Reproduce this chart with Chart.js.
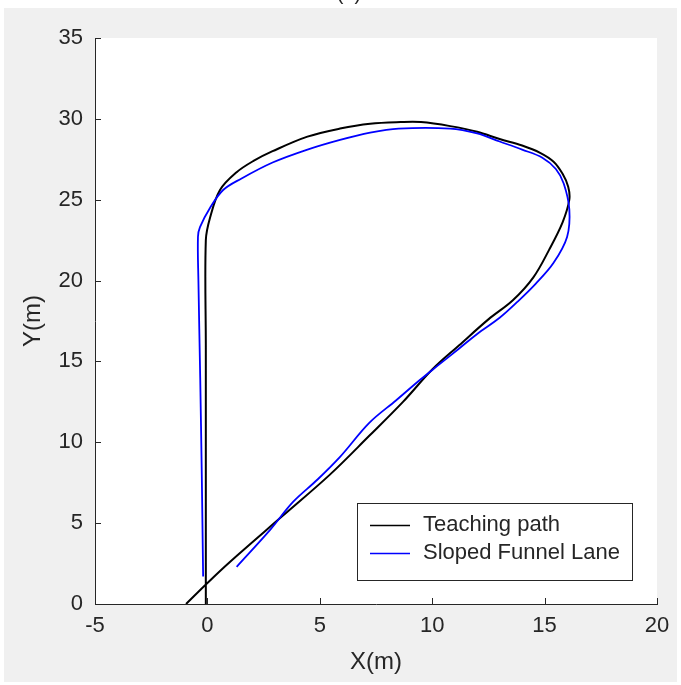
<!DOCTYPE html>
<html>
<head>
<meta charset="utf-8">
<script src="https://cdn.jsdelivr.net/npm/chart.js@4.4.1/dist/chart.umd.min.js"></script>
<style>
  html, body { margin: 0; padding: 0; background: #ffffff; }
  canvas { display: block; }
</style>
</head>
<body>
<canvas id="pathChart" width="681" height="685"></canvas>
<script>
// Teaching path (black)
const teachX = [-0.07, -0.07, -0.07, -0.07, 0.12, 0.56, 1.3, 2.05, 2.9, 4.45, 5.9, 7.24, 8.6, 9.5, 10.8, 12.0, 13.0, 14.0, 14.8, 15.4, 15.8, 16.05, 16.1,
                15.8, 15.2, 14.5, 13.6, 12.5, 11.2, 10.0, 8.7, 7.2, 5.45, 3.35, 1.0, 0.0, -0.95];
const teachY = [0.0, 8.0, 16.0, 22.5, 23.9, 25.6, 26.7, 27.4, 28.0, 28.9, 29.4, 29.7, 29.8, 29.8, 29.55, 29.2, 28.75, 28.35, 27.9, 27.35, 26.6, 25.8, 25.0,
                23.6, 21.9, 20.2, 18.8, 17.6, 16.0, 14.5, 12.5, 10.4, 8.0, 5.45, 2.6, 1.3, 0.0];

// Sloped Funnel Lane (blue)
const laneX = [-0.19, -0.25, -0.32, -0.4, -0.42, -0.33, 0.12, 0.7, 1.5, 2.9, 4.45, 5.9, 7.24, 8.5, 10.8, 12.0, 13.0, 14.0, 14.9, 15.5, 15.85, 16.1,
               16.0, 15.4, 14.6, 13.8, 13.0, 12.0, 11.2, 10.3, 9.45, 8.4, 7.2, 5.9, 4.9, 3.8, 2.8, 1.3];
const laneY = [1.7, 8.0, 14.0, 20.0, 22.7, 23.3, 24.5, 25.6, 26.3, 27.3, 28.1, 28.7, 29.15, 29.4, 29.4, 29.1, 28.6, 28.1, 27.6, 26.9, 26.0, 24.4,
               22.7, 21.1, 19.8, 18.7, 17.7, 16.7, 15.8, 14.8, 13.85, 12.6, 11.2, 9.1, 7.7, 6.3, 4.6, 2.3];

const xTicks = [-5, 0, 5, 10, 15, 20];
const yTicks = [0, 5, 10, 15, 20, 25, 30, 35];
const seriesNames = ['Teaching path', 'Sloped Funnel Lane'];
const seriesColors = ['#000000', '#0000ff'];

const toPoints = (xs, ys) => xs.map((x, i) => ({ x: x, y: ys[i] }));

const axisColor = '#262626';
const fontFamily = "'Liberation Sans', Arial, sans-serif";

// figure background, white axes area, inward ticks, legend, cut-off title
const figurePlugin = {
    id: 'figure',
    beforeDraw(chart) {
        const ctx = chart.ctx;
        const a = chart.chartArea;
        ctx.save();
        ctx.fillStyle = '#ffffff';
        ctx.fillRect(0, 0, chart.width, chart.height);
        ctx.fillStyle = '#f0f0f0';
        ctx.fillRect(4, 8, chart.width - 8, chart.height - 11);
        ctx.fillStyle = '#ffffff';
        ctx.fillRect(a.left, a.top, a.right - a.left, a.bottom - a.top);
        ctx.fillStyle = axisColor;
        ctx.font = '20px ' + fontFamily;
        ctx.textAlign = 'center';
        ctx.textBaseline = 'alphabetic';
        ctx.fillText('(a)', 349, 0);
        ctx.restore();
    },
    afterDraw(chart) {
        const ctx = chart.ctx;
        const a = chart.chartArea;
        const xs = chart.scales.x;
        const ys = chart.scales.y;
        ctx.save();
        ctx.strokeStyle = axisColor;
        ctx.lineWidth = 1;
        ctx.beginPath();
        xTicks.forEach(v => {
            const px = Math.round(xs.getPixelForValue(v)) + 0.5;
            ctx.moveTo(px, a.bottom);
            ctx.lineTo(px, a.bottom - 6);
        });
        yTicks.forEach(v => {
            const py = Math.round(ys.getPixelForValue(v)) + 0.5;
            ctx.moveTo(a.left, py);
            ctx.lineTo(a.left + 6, py);
        });
        ctx.stroke();

        // legend box, lower right inside the axes
        const lx = 357, ly = 503, lw = 275, lh = 77;
        ctx.fillStyle = '#ffffff';
        ctx.fillRect(lx, ly, lw, lh);
        ctx.strokeStyle = axisColor;
        ctx.lineWidth = 1;
        ctx.strokeRect(lx + 0.5, ly + 0.5, lw, lh);
        ctx.font = '22px ' + fontFamily;
        ctx.textAlign = 'left';
        ctx.textBaseline = 'middle';
        seriesNames.forEach((name, i) => {
            const y = ly + 22 + i * 28;
            ctx.strokeStyle = seriesColors[i];
            ctx.lineWidth = 1.3;
            ctx.beginPath();
            ctx.moveTo(lx + 13, y + 0.5);
            ctx.lineTo(lx + 53, y + 0.5);
            ctx.stroke();
            ctx.fillStyle = axisColor;
            ctx.fillText(name, lx + 66, y);
        });
        ctx.restore();
    }
};

new Chart(document.getElementById('pathChart'), {
    type: 'scatter',
    data: {
        datasets: [{
            label: seriesNames[0],
            data: toPoints(teachX, teachY),
            borderColor: seriesColors[0],
            borderWidth: 2,
            showLine: true,
            pointRadius: 0,
            tension: 0.35,
            order: 2
        }, {
            label: seriesNames[1],
            data: toPoints(laneX, laneY),
            borderColor: seriesColors[1],
            borderWidth: 1.8,
            showLine: true,
            pointRadius: 0,
            tension: 0.35,
            order: 1
        }]
    },
    options: {
        responsive: false,
        animation: false,
        layout: {
            padding: { left: 0, right: 24, top: 38, bottom: 0 }
        },
        plugins: {
            legend: { display: false },
            tooltip: { enabled: false }
        },
        scales: {
            x: {
                type: 'linear',
                min: -5,
                max: 20,
                afterBuildTicks: scale => { scale.ticks = xTicks.map(v => ({ value: v })); },
                afterFit: scale => { scale.height = 81; },
                grid: { drawOnChartArea: false, drawTicks: false },
                border: { display: true, color: axisColor, width: 1 },
                ticks: {
                    color: axisColor,
                    padding: 9,
                    maxRotation: 0,
                    font: { family: fontFamily, size: 22 }
                },
                title: {
                    display: true,
                    text: 'X(m)',
                    color: axisColor,
                    padding: { top: 0, bottom: 8 },
                    font: { family: fontFamily, size: 24 }
                }
            },
            y: {
                type: 'linear',
                min: 0,
                max: 35,
                afterBuildTicks: scale => { scale.ticks = yTicks.map(v => ({ value: v })); },
                afterFit: scale => { scale.width = 95; },
                grid: { drawOnChartArea: false, drawTicks: false },
                border: { display: true, color: axisColor, width: 1 },
                ticks: {
                    color: axisColor,
                    padding: 12,
                    font: { family: fontFamily, size: 22 }
                },
                title: {
                    display: true,
                    text: 'Y(m)',
                    color: axisColor,
                    padding: { top: 19, bottom: 0 },
                    font: { family: fontFamily, size: 24 }
                }
            }
        }
    },
    plugins: [figurePlugin]
});
</script>
</body>
</html>
